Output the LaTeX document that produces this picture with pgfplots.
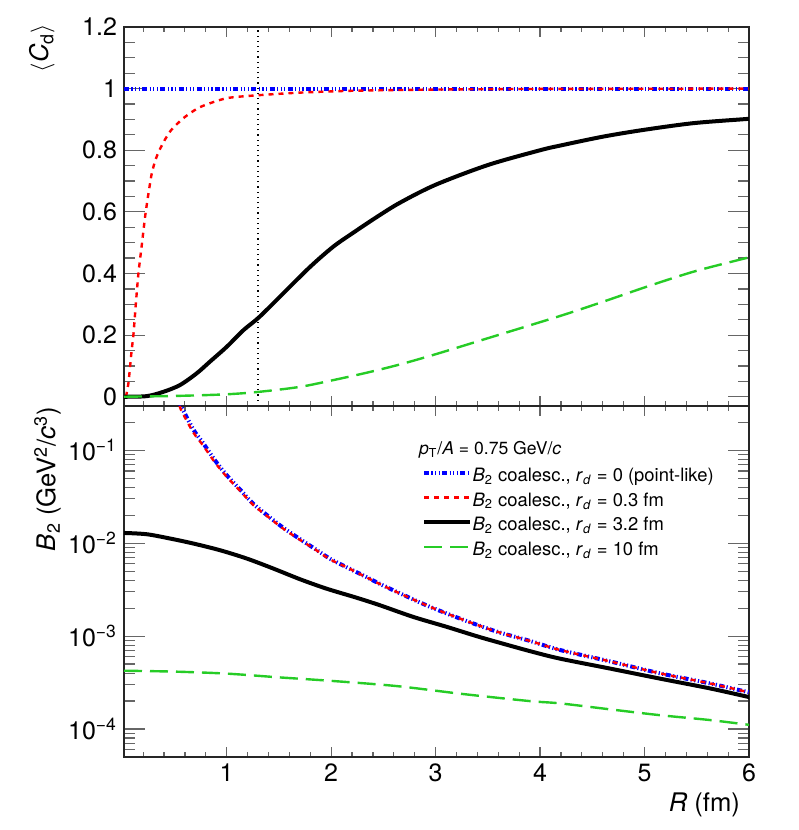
\documentclass[border=0pt]{standalone}
\usepackage{pgfplots}
\pgfplotsset{compat=1.18}
\usepackage{fontspec}
\setmainfont{TeX Gyre Heros}
\definecolor{rgreen}{rgb}{0.15,0.80,0.15}
\definecolor{rblue}{rgb}{0,0,1}
\definecolor{rred}{rgb}{1,0,0}

\pgfplotstableread{
x y
0.017 1
6.0 1
}\topblue
\pgfplotstableread{
x y
0.035 0.0
0.059 0.043
0.09 0.15
0.107 0.20
0.13 0.30
0.155 0.40
0.19 0.50
0.225 0.60
0.28 0.72
0.32 0.77
0.356 0.80
0.41 0.835
0.47 0.866
0.585 0.904
0.745 0.94
1.0 0.969
1.32 0.979
1.7 0.987
2.2 0.993
3.0 0.997
4.0 0.999
6.0 1.0
}\topred
\pgfplotstableread{
x y
0.017 0.0
0.234 0.002
0.394 0.016
0.553 0.038
0.713 0.076
0.84 0.114
1.0 0.162
1.16 0.216
1.31 0.258
1.54 0.335
1.80 0.422
2.02 0.487
2.21 0.532
2.44 0.584
2.66 0.630
3.0 0.688
3.5 0.752
4.0 0.80
4.19 0.815
4.60 0.844
4.99 0.866
5.47 0.888
5.96 0.901
6.0 0.902
}\topblack
\pgfplotstableread{
x y
0.017 0.0
0.553 0.003
1.0 0.008
1.31 0.016
1.70 0.032
2.02 0.054
2.34 0.078
2.66 0.105
3.0 0.138
3.5 0.19
4.19 0.262
4.60 0.308
5.02 0.357
5.47 0.406
5.96 0.449
6.0 0.452
}\topgreen
\pgfplotstableread{
x y
0.53 0.37
0.57 0.29
0.68 0.168
0.776 0.119
0.888 0.078
1.0 0.054
1.127 0.038
1.255 0.0265
1.40 0.0195
1.54 0.0147
1.70 0.0111
1.845 0.0087
1.99 0.0068
2.15 0.0055
2.307 0.0045
2.467 0.00365
2.627 0.00300
2.945 0.00207
3.264 0.00150
3.584 0.00112
3.90 0.00089
4.19 0.00071
4.668 0.000535
5.147 0.000398
5.625 0.00031
5.976 0.000252
6.0 0.00025
}\botblue
\pgfplotstableread{
x y
0.55 0.30
0.57 0.262
0.68 0.156
0.776 0.112
0.888 0.074
1.0 0.052
1.127 0.0368
1.255 0.0258
1.40 0.0191
1.54 0.0144
1.70 0.0109
1.845 0.0086
1.99 0.0067
2.15 0.0055
2.307 0.00447
2.467 0.00363
2.627 0.00299
2.945 0.00207
3.264 0.00150
3.584 0.00112
3.90 0.00089
4.19 0.00071
4.668 0.000535
5.147 0.000398
5.625 0.00031
5.976 0.000252
6.0 0.00025
}\botred
\pgfplotstableread{
x y
0.017 0.0129
0.234 0.0125
0.457 0.01124
0.680 0.00993
0.936 0.00841
1.191 0.00685
1.446 0.00534
1.701 0.00410
1.957 0.00324
2.244 0.00259
2.467 0.00215
2.786 0.00161
3.105 0.00126
3.392 0.00100
3.584 0.000867
3.902 0.000690
4.189 0.000573
4.668 0.000448
5.147 0.000349
5.625 0.000274
5.976 0.000224
6.0 0.000221
}\botblack
\pgfplotstableread{
x y
0.017 0.000424
0.5 0.000415
1.0 0.000395
1.5 0.00036
2.0 0.00033
2.627 0.00029
3.264 0.000238
3.90 0.00020
4.19 0.000189
4.668 0.000163
5.147 0.000141
5.625 0.000125
6.0 0.000111
}\botgreen

\pgfplotsset{
  rootaxis/.style={
    scale only axis,
    width=312.5pt,
    xmin=0.017, xmax=6,
    axis line style={black!85, line width=0.8pt},
    tick style={black!60, line width=0.6pt},
    xtick style={/pgfplots/major tick length=5pt,/pgfplots/minor tick length=2.5pt},
    ytick style={/pgfplots/major tick length=10.5pt,/pgfplots/minor tick length=5.3pt},
    tick align=inside,
    xtick={1,2,3,4,5,6},
    minor xtick={0.2,0.4,0.6,0.8,1.2,1.4,1.6,1.8,2.2,2.4,2.6,2.8,3.2,3.4,3.6,3.8,4.2,4.4,4.6,4.8,5.2,5.4,5.6,5.8},
    /pgf/number format/assume math mode=true,
    tick label style={font=\fontsize{12.5}{15}\selectfont},
    label style={font=\fontsize{12.8}{15}\selectfont},
  },
}

\begin{document}
\begin{tikzpicture}
\useasboundingbox (-62pt,-36.5pt) rectangle (337pt,378.5pt);

% top panel
\begin{axis}[rootaxis,
  at={(0pt,175.5pt)}, anchor=south west,
  height=189.5pt,
  ymin=-0.03, ymax=1.2,
  xticklabels={},
  ytick={0,0.2,0.4,0.6,0.8,1,1.2},
  yticklabels={0,0.2,0.4,0.6,0.8,1,1.2},
  minor ytick={0.05,0.1,0.15,0.25,0.3,0.35,0.45,0.5,0.55,0.65,0.7,0.75,0.85,0.9,0.95,1.05,1.1,1.15},
  ylabel={$\langle$\textit{C}\textsubscript{d}$\rangle$},
  ylabel style={at={(axis description cs:-0.131,1)}, anchor=east, xshift=5pt},
]
\addplot[rblue, line width=2pt, dash pattern=on 2.5pt off 1.2pt on 0.6pt off 1.2pt on 0.6pt off 1.2pt on 0.6pt off 1.2pt] table {\topblue};
\addplot[rred, line width=1.2pt, dash pattern=on 2.5pt off 2.5pt, smooth, tension=0.4] table {\topred};
\addplot[black, line width=2pt, smooth] table {\topblack};
\addplot[rgreen, line width=1.2pt, dash pattern=on 9pt off 4pt, smooth] table {\topgreen};
\addplot[black, line width=0.6pt, dotted] coordinates {(1.3,-0.03) (1.3,1.2)};
\end{axis}

% bottom panel
\begin{axis}[rootaxis,
  at={(0pt,0pt)}, anchor=south west,
  height=175.5pt,
  ymode=log,
  ymin=5e-5, ymax=0.3,
  xticklabels={1,2,3,4,5,6},
  ytick={1e-4,1e-3,1e-2,1e-1},
  yticklabels={10\textsuperscript{−4},10\textsuperscript{−3},10\textsuperscript{−2},10\textsuperscript{−1}},
  minor ytick={6e-5,7e-5,8e-5,9e-5,2e-4,3e-4,4e-4,5e-4,6e-4,7e-4,8e-4,9e-4,2e-3,3e-3,4e-3,5e-3,6e-3,7e-3,8e-3,9e-3,2e-2,3e-2,4e-2,5e-2,6e-2,7e-2,8e-2,9e-2,0.2},
  ylabel={\textit{B}\textsubscript{2} (GeV\textsuperscript{2}/\textit{c}\textsuperscript{3})},
  ylabel style={at={(axis description cs:-0.1224,1)}, anchor=east, xshift=3pt},
  xlabel={\textit{R} (fm)},
  xlabel style={at={(axis description cs:1,0)}, anchor=east, yshift=-24pt, xshift=-1pt},
  legend style={draw=none, fill=none, inner sep=0pt, at={(axis description cs:0.4763,0.828)}, anchor=north west,
    font=\fontsize{9.2}{10.5}\selectfont, row sep=1.95pt,
    nodes={text height=6.8pt, text depth=2.6pt, inner sep=0.5pt},
    /tikz/every even column/.style={column sep=4.5pt}},
  legend cell align=left,
  legend image code/.code={\draw[#1] (0pt,2.2pt) -- (22.8pt,2.2pt);},
]
\addplot[rblue, line width=2pt, dash pattern=on 2.5pt off 1.2pt on 0.6pt off 1.2pt on 0.6pt off 1.2pt on 0.6pt off 1.2pt, smooth] table {\botblue};
\addlegendentry{\textit{B}\textsubscript{2} coalesc., \textit{r}\textsubscript{\textit{d}} = 0 (point-like)}
\addplot[rred, line width=1.2pt, dash pattern=on 2.5pt off 2.5pt, smooth] table {\botred};
\addlegendentry{\textit{B}\textsubscript{2} coalesc., \textit{r}\textsubscript{\textit{d}} = 0.3 fm}
\addplot[black, line width=2pt, smooth] table {\botblack};
\addlegendentry{\textit{B}\textsubscript{2} coalesc., \textit{r}\textsubscript{\textit{d}} = 3.2 fm}
\addplot[rgreen, line width=1.2pt, dash pattern=on 9pt off 4pt, smooth] table {\botgreen};
\addlegendentry{\textit{B}\textsubscript{2} coalesc., \textit{r}\textsubscript{\textit{d}} = 10 fm}
\node[anchor=west, inner sep=0pt, font=\fontsize{8.8}{10}\selectfont] at (axis description cs:0.4715,0.875) {\textit{p}\textsubscript{T}/\textit{A} = 0.75 GeV/\textit{c}};
\end{axis}
\end{tikzpicture}
\end{document}
